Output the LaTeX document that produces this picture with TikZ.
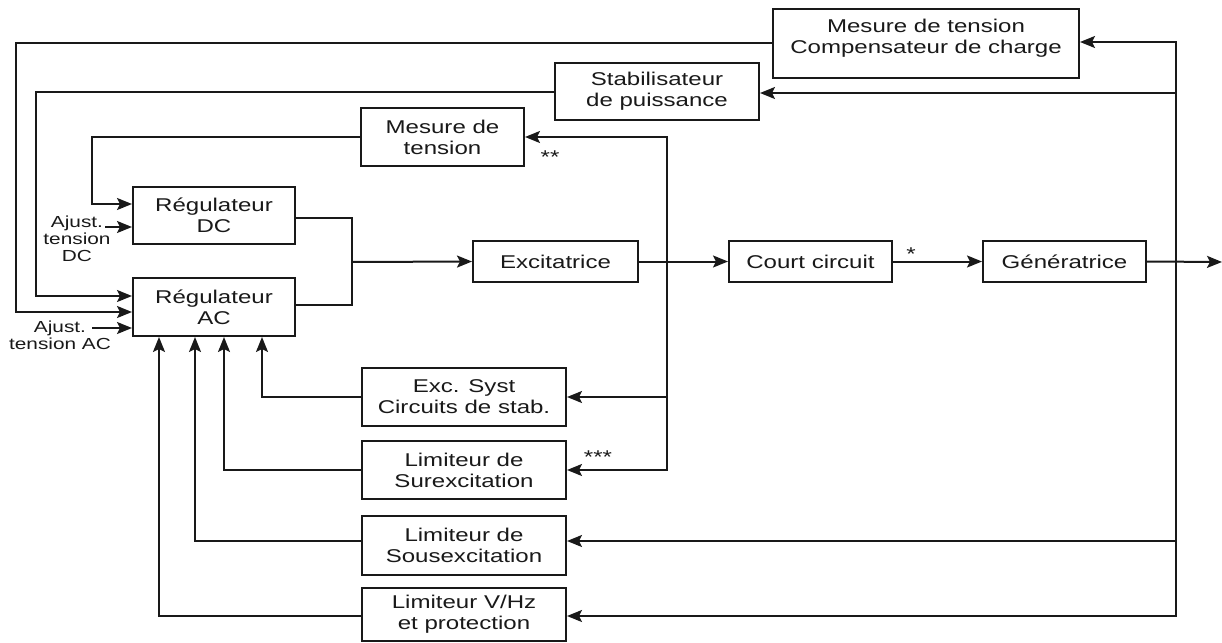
\documentclass[tikz,border=0pt]{standalone}
\usepackage{fontspec}
\newfontfamily\diagfont[FakeStretch=1.3]{Liberation Sans}
\usetikzlibrary{arrows.meta}
\definecolor{ink}{RGB}{25,25,25}
\begin{document}
\begin{tikzpicture}[x=1pt,y=-1pt,
  blk/.style={draw=ink, line width=2pt, rectangle, inner sep=0pt, align=center,
    font=\diagfont\fontsize{18.5}{21}\selectfont, text=ink},
  lbl/.style={inner sep=0pt, align=center, font=\diagfont\fontsize{16}{17}\selectfont, text=ink},
  starmark/.style={inner sep=0pt, anchor=base, font=\diagfont\fontsize{18.5}{21}\selectfont, text=ink},
  wire/.style={draw=ink, line width=2pt},
  arr/.style={wire, -{Stealth[length=15pt,width=12pt,inset=3pt]}}]

\useasboundingbox (0,0) rectangle (1222,642);
\fill[white] (0,0) rectangle (1222,642);

% measurement and compensation blocks
\node[blk, minimum width=306, minimum height=69] (mtc) at (926,43.5) {};
\node[blk, draw=none] (mtctext) at (926,38) {Mesure de tension\\Compensateur de charge};
\node[blk, minimum width=204, minimum height=57] (stab) at (657,91.5) {Stabilisateur\\de puissance};
\node[blk, minimum width=163, minimum height=58] (mt) at (442.5,137) {Mesure de\\tension};

% regulators
\node[blk, minimum width=162, minimum height=57] (rdc) at (214,215.5) {Régulateur\\DC};
\node[blk, minimum width=162, minimum height=58] (rac) at (214,307) {Régulateur\\AC};

% forward chain
\node[blk, minimum width=165, minimum height=41] (exc) at (555.5,261.5) {Excitatrice};
\node[blk, minimum width=163, minimum height=41] (cc) at (810.5,261.5) {Court circuit};
\node[blk, minimum width=163, minimum height=41] (gen) at (1064.5,261.5) {Génératrice};

% limiters and stabilising circuits
\node[blk, minimum width=204, minimum height=58] (exs) at (464,397) {Exc. Syst\\Circuits de stab.};
\node[blk, minimum width=204, minimum height=58] (sur) at (464,470) {Limiteur de\\Surexcitation};
\node[blk, minimum width=204, minimum height=59] (sous) at (464,545.5) {Limiteur de\\Sousexcitation};
\node[blk, minimum width=204, minimum height=53] (vhz) at (464,614.5) {Limiteur V/Hz\\et protection};

% set-point inputs
\node[lbl] (adc) at (77,239) {Ajust.\\tension\\DC};
\node[lbl] (aac) at (60,335) {Ajust.\\tension AC};
\coordinate (adcs) at (105,227);
\coordinate (aacs) at (92,328);

% junction points
\coordinate (sumj) at (352,262);
\coordinate (busA) at (667,262);
\coordinate (busB) at (1176,262);
\coordinate (out) at (1222,262);

% marks
\node[starmark] (m1) at (911,260) {*};
\node[starmark] (m2) at (550,163) {**};
\node[starmark] (m3) at (598,463) {***};

% feedback from the measurement blocks
\draw[arr] (mtc.west) -| (16,312) -- ([yshift=-5pt]rac.west);
\draw[arr] (stab.west) -| (36,296) -- ([yshift=11pt]rac.west);
\draw[arr] (mt.west) -| (92,204) -- ([yshift=11.5pt]rdc.west);
\draw[arr] (adcs) -- ([yshift=-11.5pt]rdc.west);
\draw[arr] (aacs) -- ([yshift=-21pt]rac.west);

% regulator outputs to the exciter
\draw[wire] ([yshift=-2.5pt]rdc.east) -| (sumj);
\draw[wire] ([yshift=2pt]rac.east) -| (sumj);
\draw[arr] (sumj) -- (exc.west);
\draw[arr] (exc.east) -- (cc.west);
\draw[arr] (cc.east) -- (gen.west);
\draw[arr] (gen.east) -- (out);

% exciter output taps
\draw[arr] (busA) |- (mt.east);
\draw[arr] (busA) |- (exs.east);
\draw[arr] (busA) |- (sur.east);

% generator output taps
\draw[arr] (busB) |- ([yshift=1.5pt]mtc.east);
\draw[arr] (busB) |- ([yshift=-1.5pt]stab.east);
\draw[arr] (busB) |- ([yshift=4.5pt]sous.east);
\draw[arr] (busB) |- ([yshift=-1.5pt]vhz.east);

% limiter signals into the AC regulator
\draw[arr] (exs.west) -| ([xshift=48pt]rac.south);
\draw[arr] (sur.west) -| ([xshift=10pt]rac.south);
\draw[arr] ([yshift=4.5pt]sous.west) -| ([xshift=-19pt]rac.south);
\draw[arr] ([yshift=-1.5pt]vhz.west) -| ([xshift=-55pt]rac.south);
\end{tikzpicture}
\end{document}
